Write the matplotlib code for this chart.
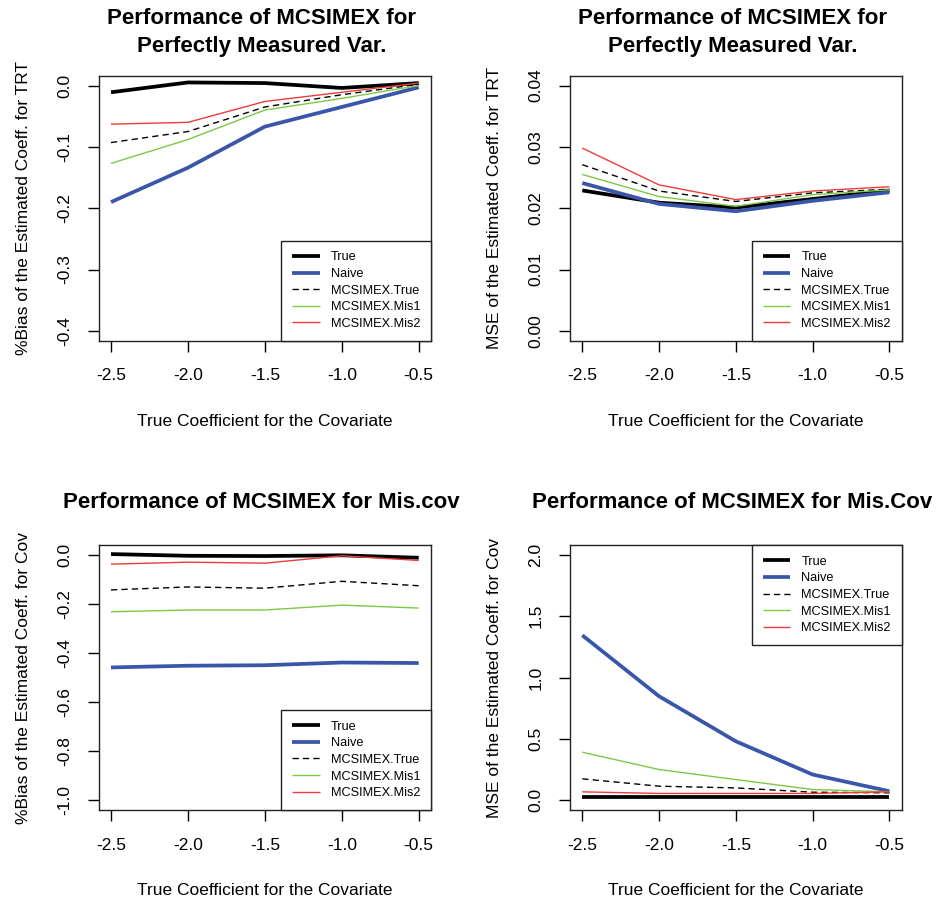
import matplotlib
matplotlib.use("Agg")
import matplotlib.pyplot as plt
from matplotlib.ticker import FixedLocator, FormatStrFormatter

plt.rcParams['font.family'] = ['Liberation Sans', 'DejaVu Sans']

# True coefficient for the covariate
coef = [-2.5, -2.0, -1.5, -1.0, -0.5]
series_names = ["True", "Naive", "MCSIMEX.True", "MCSIMEX.Mis1", "MCSIMEX.Mis2"]

# %Bias of the estimated coefficient for TRT
bias_trt_true = [-0.011, 0.005, 0.004, -0.004, 0.004]
bias_trt_naive = [-0.190, -0.134, -0.067, -0.035, -0.003]
bias_trt_mc_true = [-0.093, -0.075, -0.035, -0.015, 0.002]
bias_trt_mis1 = [-0.127, -0.088, -0.040, -0.021, 0.000]
bias_trt_mis2 = [-0.063, -0.060, -0.026, -0.011, 0.004]

# MSE of the estimated coefficient for TRT
mse_trt_true = [0.0229, 0.0209, 0.0201, 0.0215, 0.0229]
mse_trt_naive = [0.0241, 0.0207, 0.0195, 0.0212, 0.0226]
mse_trt_mc_true = [0.0271, 0.0228, 0.0211, 0.0225, 0.0231]
mse_trt_mis1 = [0.0255, 0.0219, 0.0203, 0.0222, 0.0230]
mse_trt_mis2 = [0.0298, 0.0238, 0.0214, 0.0228, 0.0235]

# %Bias of the estimated coefficient for Cov
bias_cov_true = [0.003, -0.004, -0.005, -0.002, -0.012]
bias_cov_naive = [-0.459, -0.452, -0.450, -0.439, -0.441]
bias_cov_mc_true = [-0.143, -0.131, -0.136, -0.108, -0.126]
bias_cov_mis1 = [-0.232, -0.225, -0.225, -0.205, -0.217]
bias_cov_mis2 = [-0.038, -0.030, -0.034, -0.004, -0.023]

# MSE of the estimated coefficient for Cov
mse_cov_true = [0.03, 0.03, 0.03, 0.03, 0.03]
mse_cov_naive = [1.344, 0.847, 0.480, 0.209, 0.073]
mse_cov_mc_true = [0.174, 0.114, 0.100, 0.065, 0.060]
mse_cov_mis1 = [0.391, 0.250, 0.168, 0.087, 0.068]
mse_cov_mis2 = [0.068, 0.055, 0.055, 0.055, 0.068]

x_ticks = [-2.5, -2.0, -1.5, -1.0, -0.5]
x_tick_labels = ["-2.5", "-2.0", "-1.5", "-1.0", "-0.5"]

styles = [
    dict(color="black", lw=2.7, ls="-"),
    dict(color="#3A56A8", lw=2.7, ls="-"),
    dict(color="black", lw=1.0, ls=(0, (4.5, 3))),
    dict(color="#7DC847", lw=1.0, ls="-"),
    dict(color="#EE3B3B", lw=1.0, ls="-"),
]

W, H = 937, 902
fig = plt.figure(figsize=(W / 100, H / 100), dpi=100)
fig.patch.set_facecolor("white")


def px_axes(left, top, right, bottom):
    return fig.add_axes([left / W, 1 - bottom / H, (right - left) / W, (bottom - top) / H])


def r_limits(lo, hi):
    d = (hi - lo) * 0.04
    return lo - d, hi + d


def panel(ax, series, title, ylabel, ylim, yticks, yfmt, legend_loc):
    for vals, name, st in zip(series, series_names, styles):
        ax.plot(coef, vals, label=name, color=st["color"], lw=st["lw"],
                linestyle=st["ls"], solid_capstyle="butt")
    ax.set_xlim(*r_limits(-2.5, -0.5))
    ax.set_ylim(*r_limits(*ylim))
    ax.xaxis.set_major_locator(FixedLocator(x_ticks))
    ax.set_xticklabels(x_tick_labels)
    ax.yaxis.set_major_locator(FixedLocator(yticks))
    ax.yaxis.set_major_formatter(FormatStrFormatter(yfmt))
    ax.tick_params(direction="out", length=8, width=1.0, labelsize=12.5,
                   pad=12, colors="black")
    ax.tick_params(axis="y", labelrotation=90, pad=11)
    for lab in ax.get_yticklabels():
        lab.set_va("center")
    for s in ax.spines.values():
        s.set_linewidth(1.0)
        s.set_color("#222222")
    ax.set_xlabel("True Coefficient for the Covariate", fontsize=12.5, labelpad=22)
    ax.set_ylabel(ylabel, fontsize=12.5, labelpad=19)
    ax.set_title(title, fontsize=16, fontweight="bold", pad=0, y=1.0,
                 linespacing=1.45)
    ax.title.set_position((0.49, 1 + 43 / 265))
    ax.title.set_va("center")
    leg = ax.legend(loc=legend_loc, borderaxespad=0, fancybox=False,
                    edgecolor="#222222", framealpha=1, fontsize=9.2,
                    handlelength=2.15, handletextpad=0.85, labelspacing=0.36,
                    borderpad=0.85)
    leg.get_frame().set_linewidth(1.0)
    leg.get_frame().set_boxstyle("square", pad=0)


ax1 = px_axes(98.7, 75.7, 431, 340.7)
panel(ax1, [bias_trt_true, bias_trt_naive, bias_trt_mc_true, bias_trt_mis1, bias_trt_mis2],
      "Performance of MCSIMEX for\nPerfectly Measured Var.",
      "%Bias of the Estimated Coeff. for TRT",
      (-0.4, 0.0), [0.0, -0.1, -0.2, -0.3, -0.4], "%.1f", "lower right")

ax2 = px_axes(570, 75.7, 901.7, 340.7)
panel(ax2, [mse_trt_true, mse_trt_naive, mse_trt_mc_true, mse_trt_mis1, mse_trt_mis2],
      "Performance of MCSIMEX for\nPerfectly Measured Var.",
      "MSE of the Estimated Coeff. for TRT",
      (0.0, 0.04), [0.0, 0.01, 0.02, 0.03, 0.04], "%.2f", "lower right")

ax3 = px_axes(98.7, 545, 431, 810)
panel(ax3, [bias_cov_true, bias_cov_naive, bias_cov_mc_true, bias_cov_mis1, bias_cov_mis2],
      "Performance of MCSIMEX for Mis.cov",
      "%Bias of the Estimated Coeff. for Cov",
      (-1.0, 0.0), [0.0, -0.2, -0.4, -0.6, -0.8, -1.0], "%.1f", "lower right")

ax4 = px_axes(570, 545, 901.7, 810)
panel(ax4, [mse_cov_true, mse_cov_naive, mse_cov_mc_true, mse_cov_mis1, mse_cov_mis2],
      "Performance of MCSIMEX for Mis.Cov",
      "MSE of the Estimated Coeff. for Cov",
      (0.0, 2.0), [0.0, 0.5, 1.0, 1.5, 2.0], "%.1f", "upper right")

fig.savefig("out.png", dpi=100, facecolor="white")
